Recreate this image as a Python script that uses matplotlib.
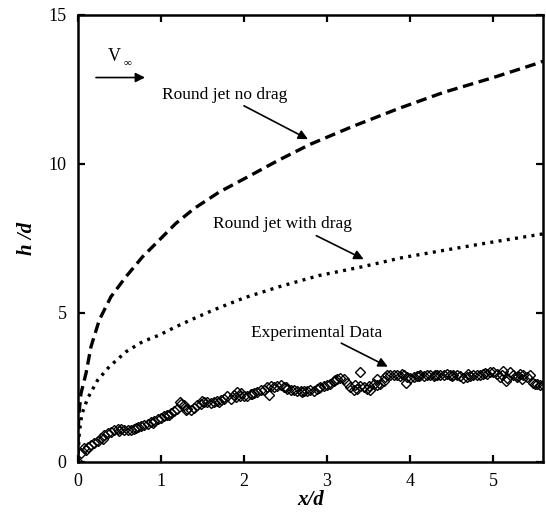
import matplotlib
matplotlib.use("Agg")
import matplotlib.pyplot as plt

plt.rcParams['font.family'] = ['Liberation Serif', 'DejaVu Serif']

# round jet, no drag (dashed)
x_nodrag = [0.0, 0.005, 0.015, 0.04, 0.10, 0.16, 0.26, 0.40, 0.58, 0.78, 0.98, 1.18,
            1.40, 1.70, 2.07, 2.40, 2.79, 3.30, 3.87, 4.40, 5.00, 5.50, 5.60]
y_nodrag = [0.0, 1.0, 1.6, 2.30, 2.97, 3.86, 4.76, 5.54, 6.21, 6.88, 7.44, 8.00,
            8.50, 9.05, 9.60, 10.10, 10.65, 11.25, 11.87, 12.40, 12.90, 13.35, 13.45]

# round jet with drag (dotted)
x_drag = [0.0, 0.02, 0.05, 0.12, 0.24, 0.38, 0.58, 0.78, 0.98, 1.18, 1.40, 1.63,
          2.00, 2.43, 2.90, 3.43, 3.90, 4.43, 5.00, 5.51, 5.60]
y_drag = [0.0, 1.0, 1.6, 2.13, 2.74, 3.19, 3.69, 4.03, 4.25, 4.53, 4.81, 5.09,
          5.50, 5.88, 6.25, 6.55, 6.85, 7.11, 7.38, 7.61, 7.65]

# experimental data (diamonds)
x_exp = [0.00, 0.04, 0.08, 0.12, 0.16, 0.20, 0.24, 0.28, 0.32, 0.36, 0.40, 0.44, 0.48,
         0.52, 0.56, 0.60, 0.64, 0.68, 0.72, 0.76, 0.80, 0.84, 0.88, 0.92, 0.96, 1.00,
         1.04, 1.08, 1.12, 1.16, 1.20, 1.24, 1.28, 1.32, 1.36, 1.40, 1.44, 1.48, 1.52,
         1.56, 1.60, 1.64, 1.68, 1.72, 1.76, 1.80, 1.84, 1.88, 1.92, 1.96, 2.00, 2.04,
         2.08, 2.12, 2.16, 2.20, 2.24, 2.28, 2.32, 2.36, 2.40, 2.44, 2.48, 2.52, 2.56,
         2.60, 2.64, 2.68, 2.72, 2.76, 2.80, 2.84, 2.88, 2.92, 2.96, 3.00, 3.04, 3.08,
         3.12, 3.16, 3.20, 3.24, 3.28, 3.32, 3.36, 3.40, 3.44, 3.48, 3.52, 3.56, 3.60,
         3.64, 3.68, 3.72, 3.76, 3.80, 3.84, 3.88, 3.92, 3.96, 4.00, 4.04, 4.08, 4.12,
         4.16, 4.20, 4.24, 4.28, 4.32, 4.36, 4.40, 4.44, 4.48, 4.52, 4.56, 4.60, 4.64,
         4.68, 4.72, 4.76, 4.80, 4.84, 4.88, 4.92, 4.96, 5.00, 5.04, 5.08, 5.12, 5.16,
         5.20, 5.24, 5.28, 5.32, 5.36, 5.40, 5.44, 5.48, 5.52, 5.56, 5.60,
         3.39, 3.95, 3.60, 5.15, 1.23, 2.30, 1.95, 3.33, 5.35,
         0.10, 0.30, 0.50, 0.70, 0.90, 1.10, 1.30, 1.50, 1.70, 1.90, 2.10, 2.50,
         2.70, 2.90, 3.10, 3.50, 3.70, 3.90, 4.10, 4.30, 4.50, 4.70, 4.90, 5.10, 5.30, 5.50]
y_exp = [0.00, 0.30, 0.45, 0.50, 0.55, 0.62, 0.70, 0.80, 0.88, 0.95, 1.00, 1.05, 1.10,
         1.10, 1.05, 1.05, 1.08, 1.10, 1.15, 1.20, 1.22, 1.28, 1.32, 1.36, 1.42, 1.48,
         1.52, 1.58, 1.62, 1.70, 1.78, 1.95, 1.90, 1.78, 1.72, 1.80, 1.90, 1.95, 2.00,
         2.02, 1.98, 2.00, 2.05, 2.08, 2.12, 2.20, 2.10, 2.25, 2.35, 2.30, 2.20, 2.22,
         2.28, 2.30, 2.35, 2.40, 2.42, 2.50, 2.55, 2.50, 2.55, 2.58, 2.52, 2.45, 2.42,
         2.40, 2.38, 2.36, 2.37, 2.36, 2.40, 2.38, 2.45, 2.50, 2.55, 2.58, 2.62, 2.70,
         2.78, 2.82, 2.78, 2.65, 2.50, 2.42, 2.45, 2.55, 2.50, 2.45, 2.42, 2.60, 2.78,
         2.62, 2.70, 2.92, 2.92, 2.90, 2.90, 2.88, 2.90, 2.85, 2.82, 2.85, 2.88, 2.90,
         2.88, 2.92, 2.90, 2.88, 2.90, 2.92, 2.90, 2.95, 2.92, 2.90, 2.92, 2.88, 2.82,
         2.85, 2.88, 2.90, 2.90, 2.92, 2.95, 2.95, 3.00, 3.02, 2.95, 2.85, 3.05, 2.80,
         3.00, 2.92, 2.85, 2.95, 2.90, 2.85, 2.92, 2.65, 2.60, 2.58, 2.58,
         3.00, 2.63, 2.58, 2.70, 2.00, 2.25, 2.20, 2.58, 2.78,
         0.40, 0.75, 1.02, 1.12, 1.30, 1.56, 1.75, 2.05, 2.02, 2.18, 2.28, 2.50,
         2.33, 2.47, 2.74, 2.55, 2.85, 2.93, 2.87, 2.91, 2.88, 2.93, 2.97, 2.90, 2.88, 2.62]

xticks = [0, 1, 2, 3, 4, 5]
yticks = [0, 5, 10, 15]

fig = plt.figure(figsize=(5.46, 5.15), dpi=100)
ax = fig.add_axes([0.1423, 0.1035, 0.8527, 0.8674])

ax.plot(x_nodrag, y_nodrag, color='black', lw=2.4, ls=(0, (3.2, 1.7)), dash_capstyle='butt')
ax.plot(x_drag, y_drag, color='black', lw=2.4, ls=(0, (0.9, 1.6)), dash_capstyle='butt')
ax.plot(x_exp, y_exp, ls='none', marker='D', ms=5.2, mfc='none', mec='black', mew=1.0)

ax.set_xlim(0, 5.6)
ax.set_ylim(0, 15)
ax.set_xticks(xticks)
ax.set_yticks(yticks)
ax.tick_params(direction='in', length=5, width=1.6, top=True, right=True,
               labelsize=13, pad=8, colors='black')
for s in ax.spines.values():
    s.set_linewidth(1.8)

ax.set_xlabel('x/d', fontsize=15, fontweight='bold', fontstyle='italic', labelpad=0)
ax.set_ylabel('h /d', fontsize=15, fontweight='bold', fontstyle='italic', labelpad=8)

arrow = dict(arrowstyle='-|>', lw=1.2, color='black', mutation_scale=14, shrinkA=0, shrinkB=0)
ax.text(1.02, 12.31, 'Round jet no drag', fontsize=12.5, va='center', ha='left')
ax.annotate('', xy=(2.77, 10.83), xytext=(2.0, 11.95), arrowprops=arrow)
ax.text(1.63, 7.98, 'Round jet with drag', fontsize=12.5, va='center', ha='left')
ax.annotate('', xy=(3.44, 6.80), xytext=(2.87, 7.59), arrowprops=arrow)
ax.text(2.08, 4.33, 'Experimental Data', fontsize=12.5, va='center', ha='left')
ax.annotate('', xy=(3.73, 3.19), xytext=(3.17, 3.98), arrowprops=arrow)

ax.text(0.44, 13.6, 'V', fontsize=13, va='center', ha='center')
ax.text(0.60, 13.4, '\u221e', fontsize=8, va='center', ha='center')
ax.annotate('', xy=(0.81, 12.9), xytext=(0.22, 12.9), arrowprops=arrow)

fig.savefig('out.png', dpi=100)
